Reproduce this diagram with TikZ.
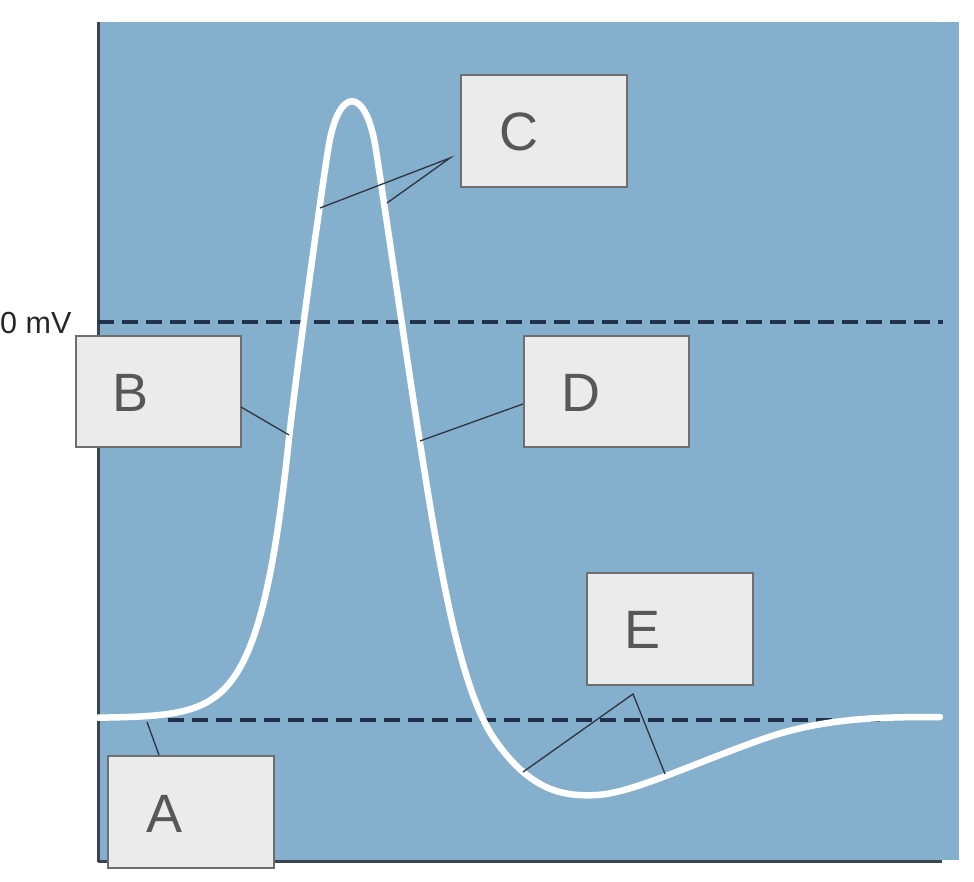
\documentclass[tikz,border=0pt]{standalone}
\usepackage{fontspec}
\setmainfont{Liberation Sans}
\definecolor{bgblue}{HTML}{84AFCD}
\definecolor{axisc}{HTML}{3E4350}
\definecolor{dashc}{HTML}{22324D}
\definecolor{boxfill}{HTML}{EBEBEB}
\definecolor{boxline}{HTML}{6E6E6E}
\definecolor{lettc}{HTML}{575757}
\definecolor{leadc}{HTML}{2E3440}
\begin{document}
\begin{tikzpicture}[x=1pt,y=-1pt,
  labelbox/.style={draw=boxline, fill=boxfill, line width=2pt},
  letter/.style={text=lettc, font=\fontsize{54}{54}\selectfont, inner sep=0pt, anchor=center},
  leader/.style={draw=leadc, line width=1.3pt},
  refline/.style={draw=dashc, line width=3.2pt, dash pattern=on 16pt off 8pt},
  trace/.style={draw=white, line width=6.5pt, line cap=round, line join=round}]
\useasboundingbox (0,0) rectangle (974,882);
% background panel
\fill[bgblue] (98,22) rectangle (959,860);
% axes
\draw[axisc, line width=3pt] (98,22) -- (98,862);
\draw[axisc, line width=3pt] (98,861) -- (942,861);
% reference lines
\draw[refline] (98,322) -- (943,322);
\draw[refline] (168,720) -- (880,720);
\node[anchor=west, inner sep=0pt, text=black!85, font=\fontsize{30.5}{30.5}\selectfont] (zmv) at (0,323) {0 mV};
% action potential trace
\draw[trace] plot[domain=98:288, samples=90, smooth] (\x, {718-exp(0.035*(\x-128))})
  .. controls (295,381.4) and (318,215) .. (328,150)
  .. controls (338,85) and (366,85) .. (376,150)
  .. controls (386,215) and (407,360) .. (420,443)
  .. controls (440,570) and (460,690) .. (495,740)
  .. controls (530,790) and (562,797) .. (597,795)
  .. controls (632,793) and (690,765) .. (760,740)
  .. controls (823,717.5) and (880,717) .. (940,717);
% leader end points
\coordinate (a1) at (147,722);
\coordinate (b1) at (289,435);
\coordinate (c0) at (450,158);
\coordinate (c1) at (320,208);
\coordinate (c2) at (387,203);
\coordinate (d1) at (420,441);
\coordinate (e0) at (633,694);
\coordinate (e1) at (523,772);
\coordinate (e2) at (665,774);
% boxes
\path[labelbox] (108,756) rectangle (274,868);
\path[labelbox] (76,336) rectangle (241,447);
\path[labelbox] (461,75) rectangle (627,187);
\path[labelbox] (524,336) rectangle (689,447);
\path[labelbox] (587,573) rectangle (753,685);
\coordinate (Atop) at (159,755);
\coordinate (Bright) at (241,407);
\coordinate (Dleft) at (523,404);
% leaders
\draw[leader] (a1) -- (Atop);
\draw[leader] (Bright) -- (b1);
\draw[leader] (c1) -- (c0) -- (c2);
\draw[leader] (Dleft) -- (d1);
\draw[leader] (e1) -- (e0) -- (e2);
% letters
\node[letter] (A) at (165,814) {A};
\node[letter] (B) at (131,393) {B};
\node[letter] (C) at (519,132) {C};
\node[letter] (D) at (581,393) {D};
\node[letter] (E) at (643,630) {E};
\end{tikzpicture}
\end{document}
